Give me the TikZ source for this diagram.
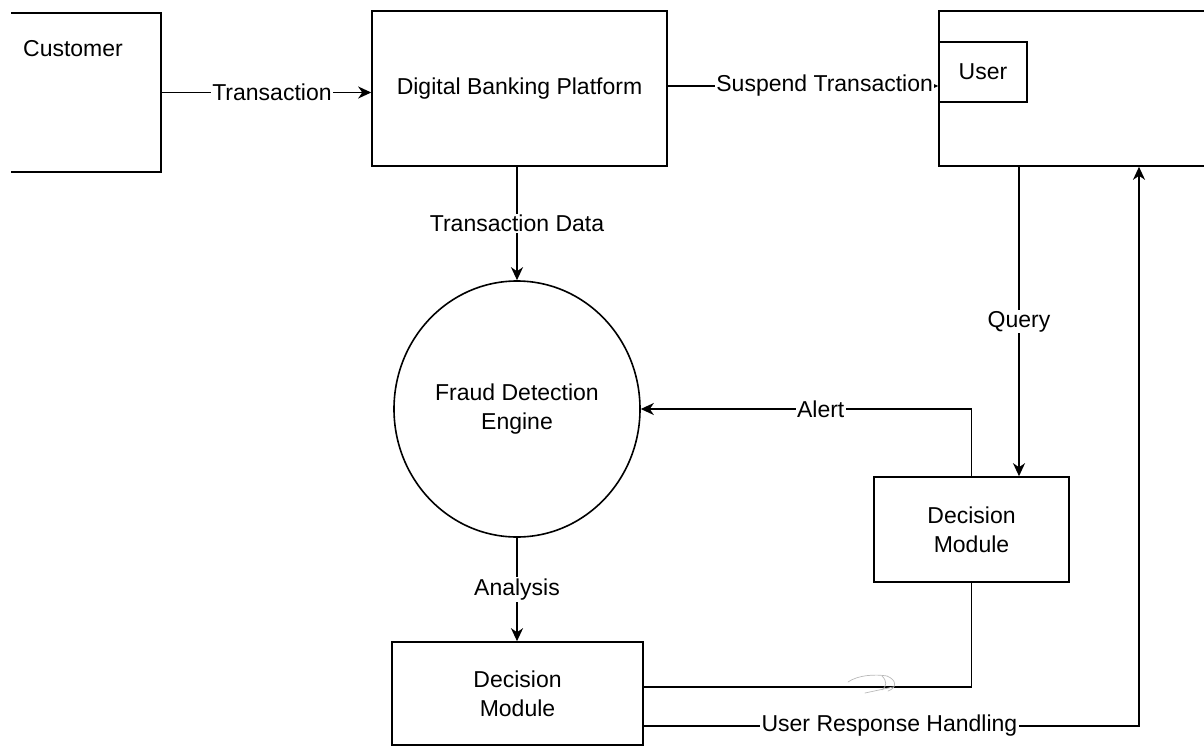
\documentclass[tikz,border=0pt]{standalone}
\usepackage{fontspec}
\setmainfont{Liberation Sans}
\usetikzlibrary{arrows.meta,shapes.geometric}
\begin{document}
\begin{tikzpicture}[x=1pt,y=-1pt,
  every node/.style={font=\fontsize{23}{29}\selectfont},
  box/.style={draw, line width=1.6pt, inner sep=0pt, align=center},
  flow/.style={line width=1.6pt, -{Stealth[length=13pt,width=12pt,inset=4pt]}},
  wire/.style={line width=1.6pt},
  lbl/.style={fill=white, inner sep=1.5pt},
  scribble/.style={gray!55, line width=0.7pt, line cap=round}]
\useasboundingbox (0,0) rectangle (1204,747);
\clip (0,0) rectangle (1204,747);

% external entity on the left, its left side runs off the sheet
\begin{scope}
  \clip (11,0) rectangle (1204,747);
  \node[box, minimum width=181pt, minimum height=159pt] (customer) at (70.5,92.5) {};
\end{scope}
\node (customertext) at (73,49) {Customer};

% platform and user side
\node[box, minimum width=295pt, minimum height=155pt] (dbp) at (519.5,88.5) {Digital Banking Platform};
\node[box, minimum width=311pt, minimum height=155pt] (userside) at (1094.5,88.5) {};
\node[box, minimum width=88pt, minimum height=60pt] (user) at (983,72) {User};

% processes
\node[draw, ellipse, line width=1.6pt, minimum width=246pt, minimum height=256pt,
      inner sep=0pt, align=center] (fde) at (517,409) {Fraud Detection\\Engine};
\node[box, minimum width=195pt, minimum height=105pt] (dm1) at (971.5,529.5) {Decision\\Module};
\node[box, minimum width=251pt, minimum height=103pt] (dm2) at (517.5,693.5) {Decision\\Module};

% data flows
\draw[flow] (customer.east) -- node[lbl, pos=0.526] {Transaction} (customer.east -| dbp.west);
\draw[flow] ([yshift=2.5pt]dbp.east) -- node[lbl, pos=0.58] {Suspend Transaction}
  ([yshift=2.5pt]dbp.east -| userside.west);
\draw[flow] (fde.north |- dbp.south) -- node[lbl] {Transaction Data} (fde.north);
\draw[flow] (fde.south) -- node[lbl] {Analysis} (fde.south |- dm2.north);
\draw[flow] ([xshift=-75.5pt]userside.south) -- node[lbl] {Query}
  ([xshift=-75.5pt]userside.south |- dm1.north);
\draw[flow] (dm1.north) |- node[lbl, pos=0.728] {Alert} (fde.east);
\draw[wire] (dm1.south) |- ([yshift=6.5pt]dm2.east);
\draw[flow] ([yshift=-32.5pt]dm2.east) -| node[lbl, pos=0.248] {User Response Handling}
  ([xshift=44.5pt]userside.south);

% pencil mark near the lower link
\draw[scribble] (848,682) .. controls (858,675) and (875,674) .. (887,676)
  .. controls (897,680) and (897,688) .. (888,691);
\draw[scribble] (882,676) .. controls (887,681) and (887,686) .. (882,690);
\draw[scribble] (865,693) -- (893,687);
\end{tikzpicture}
\end{document}
